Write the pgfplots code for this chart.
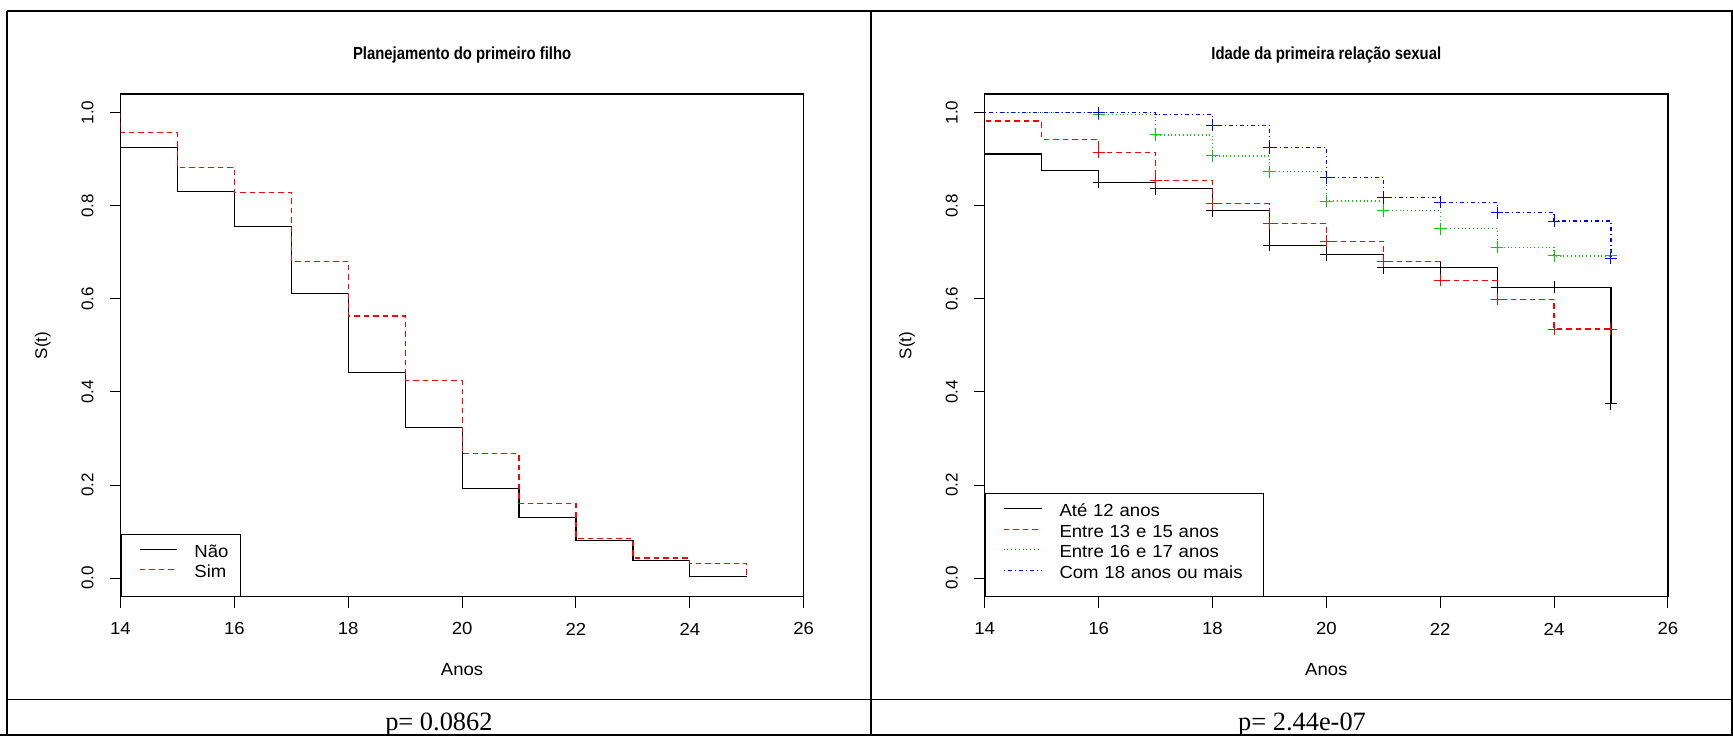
\documentclass[border=0pt]{standalone}
\usepackage{fontspec}
\setmainfont{Liberation Sans}
\newfontfamily\hfont[FakeStretch=1.06]{Liberation Sans}
\newfontfamily\tfont[FakeStretch=0.85]{Liberation Sans}
\newfontfamily\pfont{Liberation Serif}
\usepackage{pgfplots}
\pgfplotsset{compat=1.18}
\usepackage{pgfplotstable}

\definecolor{rred}{RGB}{255,0,0}
\definecolor{rgreen}{RGB}{0,205,0}
\definecolor{rblue}{RGB}{0,0,255}

% ---------- left panel: Planejamento do primeiro filho ----------
\pgfplotstableread{
t s
14 1
14 0.925
15 0.830
16 0.756
17 0.612
18 0.442
19 0.323
20 0.193
21 0.131
22 0.080
23 0.037
24 0.004
25 0.004
}\naoTab
\pgfplotstableread{
t s
14 1
14 0.957
15 0.882
16 0.829
17 0.681
18 0.563
19 0.425
20 0.267
21 0.161
22 0.085
23 0.043
24 0.032
25 0.000
}\simTab

% ---------- right panel: Idade da primeira relacao sexual ----------
\pgfplotstableread{
t s
14 1
14 0.911
15 0.876
16 0.850
17 0.837
18 0.789
19 0.715
20 0.695
21 0.667
22 0.667
23 0.625
24 0.625
25 0.375
}\ateTab
\pgfplotstableread{
t s
16 0.850
17 0.837
18 0.789
19 0.715
20 0.695
21 0.667
22 0.667
23 0.625
24 0.625
25 0.375
}\ateCens
\pgfplotstableread{
t s
14 1
14 0.982
15 0.943
16 0.915
17 0.854
18 0.804
19 0.762
20 0.724
21 0.681
22 0.640
23 0.599
24 0.535
25 0.535
}\eTreTab
\pgfplotstableread{
t s
16 0.915
17 0.854
18 0.804
19 0.762
20 0.724
21 0.681
22 0.640
23 0.599
24 0.535
25 0.535
}\eTreCens
\pgfplotstableread{
t s
14 1
16 0.996
17 0.952
18 0.907
19 0.873
20 0.810
21 0.789
22 0.751
23 0.711
24 0.692
25 0.692
}\eDezTab
\pgfplotstableread{
t s
16 0.996
17 0.952
18 0.907
19 0.873
20 0.810
21 0.789
22 0.751
23 0.711
24 0.692
25 0.692
}\eDezCens
\pgfplotstableread{
t s
14 1
17 0.996
18 0.973
19 0.925
20 0.860
21 0.817
22 0.807
23 0.785
24 0.767
25 0.687
}\comTab
\pgfplotstableread{
t s
16 1.000
18 0.973
19 0.925
20 0.860
21 0.817
22 0.807
23 0.785
24 0.767
25 0.687
}\comCens

\pgfplotsset{
  kmaxis/.style={
    scale only axis, width=341.6pt, height=251.35pt,
    xmin=14, xmax=26, ymin=-0.04, ymax=1.04,
    xtick={14,16,18,20,22,24,26},
    ytick={0,0.2,0.4,0.6,0.8,1.0},
    tick align=outside, tick pos=left, major tick length=5.5pt,
    every tick/.style={black, line width=0.5pt},
    axis line style={black, line width=0.6pt},
    scaled y ticks=false,
    /pgf/number format/assume math mode=true,
    y tick label style={/pgf/number format/fixed, /pgf/number format/fixed zerofill, /pgf/number format/precision=1},
    yticklabel style={rotate=90, anchor=center, font=\fontsize{8.5}{10}\selectfont},
    xticklabel style={anchor=center, font=\hfont\fontsize{8.75}{10}\selectfont},
    xticklabel shift=10.6pt, yticklabel shift=11pt,
    every axis title/.style={at={(axis description cs:0.5,1)}, anchor=center, yshift=19.5pt, font=\tfont\bfseries\fontsize{8.75}{10}\selectfont},
    every axis x label/.style={at={(axis description cs:0.5,0)}, anchor=center, yshift=-36.25pt, font=\hfont\fontsize{8.75}{10}\selectfont},
    every axis y label/.style={at={(axis description cs:0,0.5)}, rotate=90, anchor=center, yshift=38.9pt, font=\fontsize{8.5}{10}\selectfont},
    xlabel={Anos}, ylabel={S(t)},
    legend cell align=left,
  },
  km/.style={const plot, no marks, line width=0.6pt},
  cens/.style={only marks, mark=+, mark size=3pt, forget plot, mark options={solid, line width=0.5pt}},
  rdash/.style={dash pattern=on 2.75pt off 2pt},
  rdot/.style={dash pattern=on 0.5pt off 1.4pt},
  rdashdot/.style={dash pattern=on 0.5pt off 1.5pt on 2pt off 1.5pt},
}

\begin{document}
\begin{tikzpicture}
\useasboundingbox (0pt,0pt) rectangle (866.5pt,-368pt);

% table frame
\draw[line width=1.15pt] (3.35pt,-5.5pt) -- (866.5pt,-5.5pt);
\draw[line width=1.15pt] (3.35pt,-5.5pt) -- (3.35pt,-367.5pt);
\draw[line width=1pt] (0pt,-367.5pt) -- (866.5pt,-367.5pt);
\draw[line width=1pt] (435.5pt,-5.5pt) -- (435.5pt,-367.5pt);
\draw[line width=1pt] (865.8pt,-5.5pt) -- (865.8pt,-367.5pt);
\draw[line width=0.5pt] (3.35pt,-349.65pt) -- (866.5pt,-349.65pt);

\node[anchor=base, font=\pfont\fontsize{13.2}{15}\selectfont] at (219.45pt,-365.3pt) {p= 0.0862};
\node[anchor=base, font=\pfont\fontsize{13.2}{15}\selectfont] at (651pt,-365.3pt) {p= 2.44e-07};

% ---------------- left axis ----------------
\begin{axis}[kmaxis,
  at={(60.25pt,-47pt)}, anchor=north west,
  title={Planejamento do primeiro filho},
  legend style={at={(axis description cs:0,0)}, anchor=south west, draw=black, line width=0.5pt,
    inner xsep=4.8pt, inner ysep=5.4pt, row sep=0pt, column sep=0pt,
    font=\hfont\fontsize{8.75}{10}\selectfont,
    nodes={inner sep=0pt, text height=6.25pt, text depth=3.75pt, text width=18.2pt, align=left}},
  legend image code/.code={\path[draw=none, fill=none] (0pt,0pt) rectangle (31.95pt,0.1pt); \draw[#1] (4.45pt,2.8pt) -- (23.15pt,2.8pt);},
]
\addplot[km, black] table[x=t, y=s] {\naoTab};
\addlegendentry{Não}
\addplot[km, rred, rdash] table[x=t, y=s] {\simTab};
\addlegendentry{Sim}
\end{axis}

% ---------------- right axis ----------------
\begin{axis}[kmaxis,
  at={(492.35pt,-47pt)}, anchor=north west,
  title={Idade da primeira relação sexual},
  legend style={at={(axis description cs:0,0)}, anchor=south west, draw=black, line width=0.5pt,
    inner xsep=4.85pt, inner ysep=5.1pt, row sep=0pt, column sep=0pt,
    font=\hfont\fontsize{8.75}{10}\selectfont,
    nodes={inner sep=0pt, text height=6.4pt, text depth=3.85pt, text width=97.15pt, align=left}},
  legend image code/.code={\path[draw=none, fill=none] (0pt,0pt) rectangle (32.3pt,0.1pt); \draw[#1] (4.3pt,2.8pt) -- (23.3pt,2.8pt);},
]
\addplot[km, black] table[x=t, y=s] {\ateTab};
\addlegendentry{Até 12 anos}
\addplot[km, rred, rdash] table[x=t, y=s] {\eTreTab};
\addlegendentry{Entre 13 e 15 anos}
\addplot[km, rgreen, rdot] table[x=t, y=s] {\eDezTab};
\addlegendentry{Entre 16 e 17 anos}
\addplot[km, rblue, rdashdot] table[x=t, y=s] {\comTab};
\addlegendentry{Com 18 anos ou mais}
\addplot[cens, black] table[x=t, y=s] {\ateCens};
\addplot[cens, rred] table[x=t, y=s] {\eTreCens};
\addplot[cens, rgreen] table[x=t, y=s] {\eDezCens};
\addplot[cens, rblue] table[x=t, y=s] {\comCens};
\end{axis}
\end{tikzpicture}
\end{document}
